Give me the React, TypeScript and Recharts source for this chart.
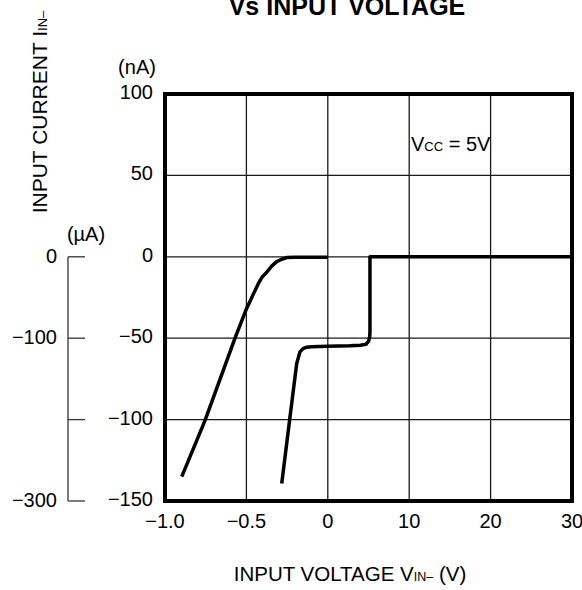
import React from 'react';
import * as Recharts from 'recharts';

const { LineChart, Line, XAxis, YAxis, CartesianGrid, ReferenceArea } = Recharts as any;
const R: any = Recharts;

// ---------- data ----------
const X_TICK_POS = [0, 1, 2, 3, 4, 5];
const X_TICK_LABELS = ['−1.0', '−0.5', '0', '10', '20', '30'];
const NA_TICKS = [100, 50, 0, -50, -100, -150];
const NA_LABELS = ['100', '50', '0', '−50', '−100', '−150'];
const UA_TICKS = [0, -100, -200, -300];
const UA_LABELS = ['0', '−100', '', '−300'];

// curve read on the µA (left) scale
const CURVE_A_V = [-0.897, -0.754, -0.57, -0.5, -0.427, -0.404, -0.375, -0.345, -0.314, -0.283, -0.253, -0.2, 0];
const CURVE_A_UA = [-270, -201, -100, -64, -33, -25, -19, -11.5, -6, -3, -1, -0.5, -0.5];

// curve read on the nA scale
const CURVE_B_V = [-0.283, -0.232, -0.191, -0.171, -0.152, -0.13, -0.1, 0, 2.7, 4.0, 4.7, 5.0, 5.15, 5.18, 5.18, 30];
const CURVE_B_NA = [-139.3, -98.3, -65.5, -58.4, -56.4, -55.5, -55.2, -55, -54.7, -54.3, -53.7, -52, -49, -46, 0, 0];

// broken x axis: -1..0 V on the first two divisions, 0..30 V on the last three
const toPos = (v: number) => (v <= 0 ? (v + 1) * 2 : 2 + v / 10);

const dataA = CURVE_A_V.map((v, i) => ({ pos: toPos(v), ua: CURVE_A_UA[i] }));
const dataB = CURVE_B_V.map((v, i) => ({ pos: toPos(v), na: CURVE_B_NA[i] }));

// ---------- layout ----------
const W = 582;
const H = 590;
const MARGIN = { top: 94, right: 10, bottom: 0, left: 0 };
const UA_AXIS_W = 68;
const NA_AXIS_W = 97;
const X_AXIS_H = 89;
const FONT = "'Liberation Sans', Arial, Helvetica, sans-serif";
const TICK_FS = 20;

function usePlotBottom(): number {
  const fallback = H - MARGIN.bottom - X_AXIS_H;
  if (typeof R.usePlotArea === 'function') {
    const p = R.usePlotArea();
    return p ? p.y + p.height : fallback;
  }
  return fallback;
}

function XTick(props: any) {
  const { x, y, payload } = props;
  const i = X_TICK_POS.indexOf(payload.value);
  return (
    <text x={x} y={y + 27} textAnchor="middle" fontSize={TICK_FS} fontFamily={FONT} fill="#000">
      {X_TICK_LABELS[i]}
    </text>
  );
}

function NaTick(props: any) {
  const { x, y, payload } = props;
  const i = NA_TICKS.indexOf(payload.value);
  return (
    <text x={x - 12} y={y + 5} textAnchor="end" fontSize={TICK_FS} fontFamily={FONT} fill="#000">
      {NA_LABELS[i]}
    </text>
  );
}

function UaTick(props: any) {
  const { x, y, payload } = props;
  const bottom = usePlotBottom();
  const i = UA_TICKS.indexOf(payload.value);
  return (
    <g>
      {payload.value === 0 && <line x1={x} y1={y} x2={x} y2={bottom} stroke="#333" strokeWidth={1.3} />}
      <line x1={x} y1={y} x2={x + 17} y2={y} stroke="#333" strokeWidth={1.3} />
      <text x={x - 11} y={y + 6} textAnchor="end" fontSize={TICK_FS} fontFamily={FONT} fill="#000">
        {UA_LABELS[i]}
      </text>
    </g>
  );
}

export default function App() {
  return (
    <div style={{ position: 'absolute', left: 0, top: 0, width: W, height: H, background: '#fff' }}>
      <LineChart width={W} height={H} margin={MARGIN}>
        <XAxis
          type="number"
          dataKey="pos"
          domain={[0, 5]}
          ticks={X_TICK_POS}
          height={X_AXIS_H}
          axisLine={false}
          tickLine={false}
          tickSize={0}
          tickMargin={0}
          tick={XTick}
          interval={0}
        />
        <YAxis
          yAxisId="na"
          type="number"
          domain={[-150, 100]}
          ticks={NA_TICKS}
          width={NA_AXIS_W}
          axisLine={false}
          tickLine={false}
          tickSize={0}
          tickMargin={0}
          tick={NaTick}
          interval={0}
        />
        <YAxis
          yAxisId="ua"
          type="number"
          domain={[-300, 200]}
          ticks={UA_TICKS}
          width={UA_AXIS_W}
          axisLine={false}
          tickLine={false}
          tickSize={0}
          tickMargin={0}
          tick={<UaTick />}
          interval={0}
        />
        <CartesianGrid yAxisId="na" stroke="#1a1a1a" strokeWidth={1.3} />
        <ReferenceArea
          yAxisId="na"
          x1={0}
          x2={5}
          y1={-150}
          y2={100}
          fill="none"
          fillOpacity={0}
          stroke="#000"
          strokeWidth={4}
        />
        <Line
          yAxisId="ua"
          data={dataA}
          dataKey="ua"
          type="linear"
          stroke="#000"
          strokeWidth={3.5}
          strokeLinejoin="round"
          dot={false}
          isAnimationActive={false}
        />
        <Line
          yAxisId="na"
          data={dataB}
          dataKey="na"
          type="linear"
          stroke="#000"
          strokeWidth={3.5}
          strokeLinejoin="round"
          dot={false}
          isAnimationActive={false}
        />
      </LineChart>
      <svg
        width={W}
        height={H}
        style={{ position: 'absolute', left: 0, top: 0, pointerEvents: 'none' }}
        fontFamily={FONT}
      >
        <text x={347} y={15} textAnchor="middle" fontSize={25} fontWeight="bold" fill="#000">
          Vs INPUT VOLTAGE
        </text>
        <text transform="translate(47,112) rotate(-90)" textAnchor="middle" fontSize={21} fill="#000">
          INPUT CURRENT I<tspan fontSize={13}>IN–</tspan>
        </text>
        <text x={137} y={74} textAnchor="middle" fontSize={TICK_FS} fill="#000">(nA)</text>
        <text x={86} y={241} textAnchor="middle" fontSize={TICK_FS} fill="#000">(µA)</text>
        <text x={411} y={151} fontSize={20} fill="#000">
          V<tspan fontSize={13}>CC</tspan> = 5V
        </text>
        <text x={350} y={581} textAnchor="middle" fontSize={20.5} fill="#000">
          INPUT VOLTAGE V<tspan fontSize={12.5}>IN–</tspan> (V)
        </text>
      </svg>
    </div>
  );
}
